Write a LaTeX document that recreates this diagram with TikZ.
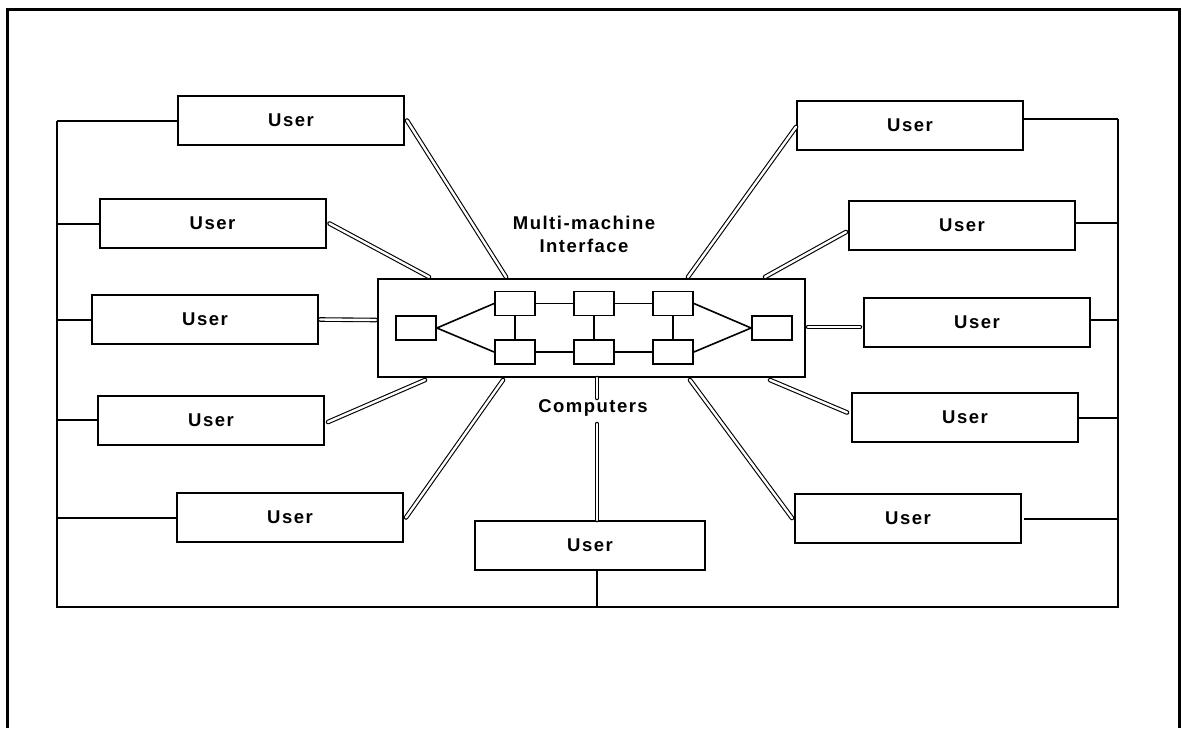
\documentclass[tikz,border=0pt]{standalone}
\usepackage{fontspec}
\setmainfont{Liberation Sans}[LetterSpace=8]
\usetikzlibrary{calc}
\begin{document}
\begin{tikzpicture}[x=1pt,y=-1pt,
  userbox/.style={draw,line width=2pt,minimum width=226pt,minimum height=49pt,inner sep=0pt,
    font=\fontsize{18.5}{20}\selectfont\bfseries},
  cpu/.style={draw,line width=1.8pt,minimum width=40pt,minimum height=24pt,inner sep=0pt},
  hubbox/.style={draw,line width=2pt,minimum width=427pt,minimum height=98pt,inner sep=0pt},
  label/.style={font=\fontsize{18.5}{23}\selectfont\bfseries,align=center,inner sep=0pt},
  link/.style={line width=1.1pt,double=white,double distance=2.4pt,line cap=round},
  bus/.style={line width=2pt},
  wire/.style={line width=1.6pt},
  frame/.style={line width=3pt}]
  \useasboundingbox (0,0) rectangle (1182,728);

  % page frame (open at the bottom)
  \coordinate (fBL) at (7,728);
  \coordinate (fTL) at (7,9);
  \coordinate (fTR) at (1179,9);
  \coordinate (fBR) at (1179,728);
  \draw[frame] (fBL) -- (fTL) -- (fTR) -- (fBR);

  % central multi-machine interface
  \node[hubbox] (hub) at (591.5,328) {};
  \node[cpu] (a)  at (416,328) {};
  \node[cpu] (t1) at (515,303.5) {};
  \node[cpu] (t2) at (594,303.5) {};
  \node[cpu] (t3) at (673,303.5) {};
  \node[cpu] (b1) at (515,352) {};
  \node[cpu] (b2) at (594,352) {};
  \node[cpu] (b3) at (673,352) {};
  \node[cpu] (z)  at (772,328) {};
  \draw[wire] (t1.west) -- (a.east) -- (b1.west);
  \draw[wire] (t1) -- (t2) -- (t3);
  \draw[wire] (b1) -- (b2) -- (b3);
  \draw[wire] (t1) -- (b1);
  \draw[wire] (t2) -- (b2);
  \draw[wire] (t3) -- (b3);
  \draw[wire] (t3.east) -- (z.west) -- (b3.east);

  \node[label] (mmi) at (584,234) {Multi-machine\\Interface};
  \node[label] (cmp) at (593,408) {Computers};

  % users
  \node[userbox] (L1) at (291,120.5) {User};
  \node[userbox] (L2) at (212.5,223.5) {User};
  \node[userbox] (L3) at (205,319.5) {User};
  \node[userbox] (L4) at (211,420) {User};
  \node[userbox] (L5) at (290,517.5) {User};
  \node[userbox,minimum width=230pt] (B) at (590,545.5) {User};
  \node[userbox] (R1) at (910,125) {User};
  \node[userbox] (R2) at (962,225) {User};
  \node[userbox] (R3) at (977,322) {User};
  \node[userbox] (R4) at (965,417.5) {User};
  \node[userbox] (R5) at (908,518) {User};

  % attachment points on the interface box
  \coordinate (h1) at (506,277);
  \coordinate (h2) at (429,277);
  \coordinate (h3) at (376,320);
  \coordinate (h4) at (425,380);
  \coordinate (h5) at (503,380);
  \coordinate (h6) at (688,277);
  \coordinate (h7) at (765,277);
  \coordinate (h8) at (808,327);
  \coordinate (h9) at (770,380);
  \coordinate (h10) at (690,380);
  \coordinate (hs) at (597,378);
  \coordinate (cs1) at (597,398);
  \coordinate (cs2) at (597,424);

  % links between users and the interface
  \draw[link] ([xshift=2pt]L1.east) -- (h1);
  \draw[link] ([xshift=3pt]L2.east) -- (h2);
  \draw[link] ([xshift=1pt]L3.east) -- (h3);
  \draw[link] ([xshift=3pt,yshift=-2pt]L4.east) -- (h4);
  \draw[link] ([xshift=2pt]L5.east) -- (h5);
  \draw[link] ([yshift=-2pt]R1.west) -- (h6);
  \draw[link] ([xshift=-2pt,yshift=-7pt]R2.west) -- (h7);
  \draw[link] ([xshift=-3pt,yshift=-5pt]R3.west) -- (h8);
  \draw[link] ([xshift=-4pt,yshift=5pt]R4.west) -- (h9);
  \draw[link] ([xshift=-2pt]R5.west) -- (h10);
  \draw[link] (hs) -- (cs1);
  \draw[link] (cs2) -- (cs2 |- B.north);

  % common user bus
  \coordinate (busTL) at (57,120.5);
  \coordinate (busBL) at (57,607);
  \coordinate (busBR) at (1118,607);
  \coordinate (busTR) at (1118,119);
  \draw[bus] (busTL) -- (busBL) -- (busBR) -- (busTR);
  \draw[bus] (L1.west) -- (busTL);
  \draw[bus] (L2.west) -- (L2.west -| busBL);
  \draw[bus] (L3.west) -- (L3.west -| busBL);
  \draw[bus] (L4.west) -- (L4.west -| busBL);
  \draw[bus] (L5.west) -- (L5.west -| busBL);
  \draw[bus] (R1.east |- busTR) -- (busTR);
  \draw[bus] ([yshift=2pt]R2.east) -- ([yshift=2pt]R2.east -| busBR);
  \draw[bus] ([yshift=2pt]R3.east) -- ([yshift=2pt]R3.east -| busBR);
  \draw[bus] (R4.east) -- (R4.east -| busBR);
  \draw[bus] ([xshift=2pt,yshift=-1pt]R5.east) -- ([yshift=-1pt]R5.east -| busBR);
  \draw[bus] (B.south -| cs2) -- (cs2 |- busBL);
\end{tikzpicture}
\end{document}
